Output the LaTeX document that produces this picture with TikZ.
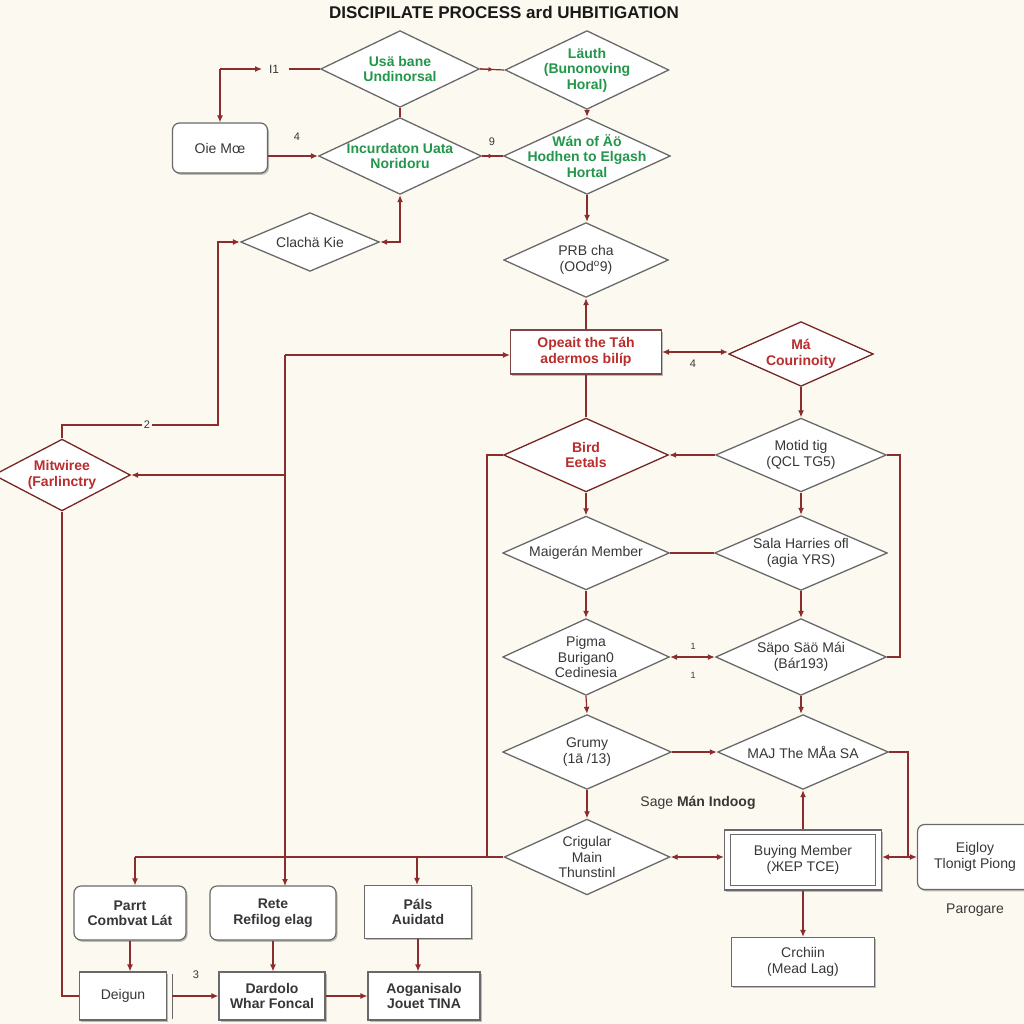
\documentclass[tikz,border=0pt]{standalone}
\usepackage{fontspec}
\setmainfont{Liberation Sans}
\usetikzlibrary{arrows.meta,shadows,calc}
\definecolor{bg}{RGB}{252,250,240}
\definecolor{lnk}{RGB}{140,45,45}
\definecolor{edg}{RGB}{105,105,105}
\definecolor{txt}{RGB}{55,55,55}
\definecolor{grn}{RGB}{35,150,75}
\definecolor{rdt}{RGB}{185,45,45}
\newcommand\dshapeX[1]{\filldraw[fill=white,draw=#1,line width=1.3pt]
  ([yshift=-0.9pt]path picture bounding box.north) -- ([xshift=-0.9pt]path picture bounding box.east) --
  ([yshift=0.9pt]path picture bounding box.south) -- ([xshift=0.9pt]path picture bounding box.west) -- cycle;}
\tikzset{
  dia/.style n args={2}{rectangle, inner sep=0pt, minimum width=#1pt, minimum height=#2pt, align=center,
    font=\fontsize{14}{15.5}\selectfont, text=txt, path picture={\dshapeX{edg}}},
  diar/.style n args={2}{rectangle, inner sep=0pt, minimum width=#1pt, minimum height=#2pt, align=center,
    font=\fontsize{14}{15.5}\selectfont\bfseries, text=rdt, path picture={\dshapeX{lnk!85!black}}},
  gtext/.style={text=grn, font=\fontsize{14}{15.5}\selectfont\bfseries},
  box/.style n args={2}{draw=edg, fill=white, line width=1.2pt, minimum width=#1pt, minimum height=#2pt,
    align=center, inner sep=0pt, font=\fontsize{14}{15.5}\selectfont, text=txt,
    drop shadow={shadow xshift=1.5pt, shadow yshift=-1.8pt, opacity=0.25, fill=black}},
  rbox/.style n args={2}{box={#1}{#2}, rounded corners=7pt},
  bbold/.style={font=\fontsize{14}{15.5}\selectfont\bfseries},
  lk/.style={draw=lnk, line width=1.2pt},
  ar/.style={lk, -{Latex[length=7pt,width=6pt]}},
  arb/.style={lk, {Latex[length=7pt,width=6pt]}-{Latex[length=7pt,width=6pt]}},
  lab/.style={font=\fontsize{11}{12}\selectfont, text=txt, fill=bg, inner sep=1.5pt},
}
\begin{document}
\begin{tikzpicture}[x=1pt,y=-1pt]
\fill[bg] (0,0) rectangle (1024,1024);
\useasboundingbox (0,0) rectangle (1024,1024);

\node[font=\fontsize{17}{19}\selectfont\bfseries, text=black!90] (title) at (504,12) {DISCIPILATE PROCESS ard UHBITIGATION};

% diamonds
\node[dia={160}{78}, gtext] (d1) at (400,69) {Usä bane\\Undinorsal};
\node[dia={165}{80}, gtext] (d2) at (587,70) {Läuth\\(Bunonoving\\Horal)};
\node[dia={164}{78}, gtext] (d3) at (400,156) {Incurdaton Uata\\Noridoru};
\node[dia={168}{78}, gtext] (d4) at (587,156) {Wán of Äö\\Hodhen to Elgash\\Hortal};
\node[dia={140}{60}] (d5) at (310,242) {Clachä Kie};
\node[dia={166}{76}] (d6) at (586,260) {PRB cha\\(OOd\textsuperscript{o}9)};
\node[diar={146}{66}] (d7) at (801,354) {Má\\Courinoity};
\node[diar={166}{75}] (d8) at (586,455) {Bird\\Eetals};
\node[dia={172}{75}] (d9) at (801,455) {Motid tig\\(QCL TG5)};
\node[diar={138}{73}] (d10) at (62,475) {Mitwiree\\(Farlinctry};
\node[dia={168}{75}] (d11) at (586,553) {Maigerán Member};
\node[dia={174}{76}] (d12) at (801,553) {Sala Harries ofl\\(agia YRS)};
\node[dia={168}{78}] (d13) at (586,657) {Pigma\\Burigan0\\Cedinesia};
\node[dia={172}{78}] (d14) at (801,657) {Säpo Säö Mái\\(Bár193)};
\node[dia={170}{76}] (d15) at (587,752) {Grumy\\(1ā /13)};
\node[dia={172}{76}] (d16) at (803,752) {MAJ The MÅa SA};
\node[dia={167}{77}] (d17) at (587,857) {Crigular\\Main\\Thunstinl};

% boxes
\node[rbox={95}{50}] (oie) at (220,148) {Oie Mœ};
\node[box={151}{44}, bbold, text=rdt, draw=lnk!60!edg] (r1) at (586,352) {Opeait the Táh\\adermos bilíp};
\node[box={157}{60}] (b1) at (803,860) {Buying Member\\(ЖEP TCE)};
\draw[edg, line width=0.9pt] ($(b1.north west)+(7,5)$) rectangle ($(b1.south east)+(-7,-5)$);
\node[rbox={115}{65}] (b2) at (975,857) {Eigloy\\Tlonigt Piong};
\node[box={143}{49}] (b3) at (803,962) {Crchiin\\(Mead Lag)};
\node[rbox={112}{54}, bbold] (p1) at (130,913) {Parrt\\Combvat Lát};
\node[rbox={126}{54}, bbold] (p2) at (273,913) {Rete\\Refilog elag};
\node[box={107}{53}, bbold] (p3) at (418,912) {Páls\\Auidatd};
\node[box={87}{48}] (q1) at (123,996) {Deigun};
\node[box={106}{48}, bbold] (q2) at (272,996) {Dardolo\\Whar Foncal};
\node[box={112}{48}, bbold] (q3) at (424,996) {Aoganisalo\\Jouet TINA};
\draw[edg, line width=1.2pt] ($(q1.north east)+(5,3)$) coordinate (qs1) -- ($(q1.south east)+(5,-2)$) coordinate (qs2);

% free texts
\node[font=\fontsize{14}{16}\selectfont, text=txt] (tpar) at (975,910) {Parogare};
\node[font=\fontsize{14}{16}\selectfont, text=txt] (tsage) at (698,803) {Sage \textbf{Mán Indoog}};

% --- connectors, top part
\coordinate (c1) at (220,69);
\coordinate (c1e) at (262,69);
\node[lab, font=\fontsize{12}{12}\selectfont] (l1) at (274,69) {I1};
\draw[ar] (c1) -- (oie.north);
\draw[ar] (c1) -- (c1e);
\draw[lk] (l1.east) ++(8,0) -- (d1.west);
\draw[ar] (oie.east |- d3.west) -- (d3.west);
\node[lab] (l4a) at (297,137) {4};
\draw[lk] (d1.south) -- (d3.north);
\draw[lk] (d1.east) -- (d2.west);
\draw[lk, -{Latex[length=5pt,width=5pt]}] (d1.east) -- ($(d1.east)!0.55!(d2.west)$);
\draw[lk] (d3.east) -- (d4.west);
\draw[lk, -{Latex[length=5pt,width=5pt]}] (d3.east) -- ($(d3.east)!0.55!(d4.west)$);
\node[lab, fill=none] (l9) at (492,142) {9};
\draw[ar] (d2.south) -- (d4.north);
\draw[ar] (d4.south) -- (d4.south |- d6.north);
\draw[arb] (d5.east) -| (d3.south);
\draw[ar] (r1.north) -- (d6.south);

% left loop from d10 to d5
\coordinate (c2a) at (218,425);
\draw[ar] (d10.north) |- (c2a) |- (d5.west);
\node[lab] (l2) at (147,425) {2};

% long vertical at x=285
\coordinate (v1) at (285,355);
\coordinate (v2) at (285,475);
\draw[ar] (v1) -- (v1 -| r1.west);
\draw[ar] (v1) -- (285,886);
\draw[ar] (v2) -- (d10.east);

% bottom bus y=857
\coordinate (h1) at (135,857);
\coordinate (h3) at (417,857);
\draw[lk] (d17.west) -- (h1);
\draw[ar] (h1) -- (h1 |- p1.north);
\draw[ar] (h3) -- (h3 |- p3.north);
\coordinate (v4) at (487,455);
\draw[lk] (d8.west) -- (v4) -- (487,857);

% right column
\draw[arb] (r1.east) -- (r1.east -| d7.west);
\node[lab] (l4b) at (693,364) {4};
\draw[lk] (r1.south) -- (d8.north);
\draw[ar] (d7.south) -- (d9.north);
\draw[ar] (d9.west) -- (d8.east);
\draw[ar] (d8.south) -- (d11.north);
\draw[ar] (d9.south) -- (d12.north);
\draw[lk] (d11.east) -- (d12.west);
\draw[ar] (d11.south) -- (d13.north);
\draw[ar] (d12.south) -- (d14.north);
\draw[arb] (d13.east) -- (d14.west);
\node[lab, fill=none, font=\fontsize{9}{9}\selectfont] (l1a) at (693,646) {1};
\node[lab, fill=none, font=\fontsize{9}{9}\selectfont] (l1b) at (693,675) {1};
\draw[ar] (d13.south) -- (d15.north);
\draw[ar] (d14.south) -- (d14.south |- d16.north);
\draw[ar] (d15.east) -- (d16.west);
\draw[ar] (d15.south) -- (d17.north);
\draw[arb] (d17.east) -- (b1.west |- d17.east);
\draw[ar] (b1.north) -- (d16.south);
\coordinate (v5) at (908,857);
\draw[lk] (d16.east) -| (v5);
\draw[arb] (b1.east |- b2.west) -- (b2.west);
\draw[ar] (b1.south) -- (b3.north);
\draw[lk] (d9.east) -| (900,560) |- (d14.east);

% bottom left
\draw[lk] (d10.south) |- (q1.west);
\draw[ar] (p1.south) -- (p1.south |- q1.north);
\draw[ar] (p2.south) -- (p2.south |- q2.north);
\draw[ar] (p3.south) -- (p3.south |- q3.north);
\draw[ar] (qs1 |- q1.east) -- (q2.west);
\node[lab] (l3) at (196,975) {3};
\draw[ar] (q2.east) -- (q3.west);
\end{tikzpicture}
\end{document}
